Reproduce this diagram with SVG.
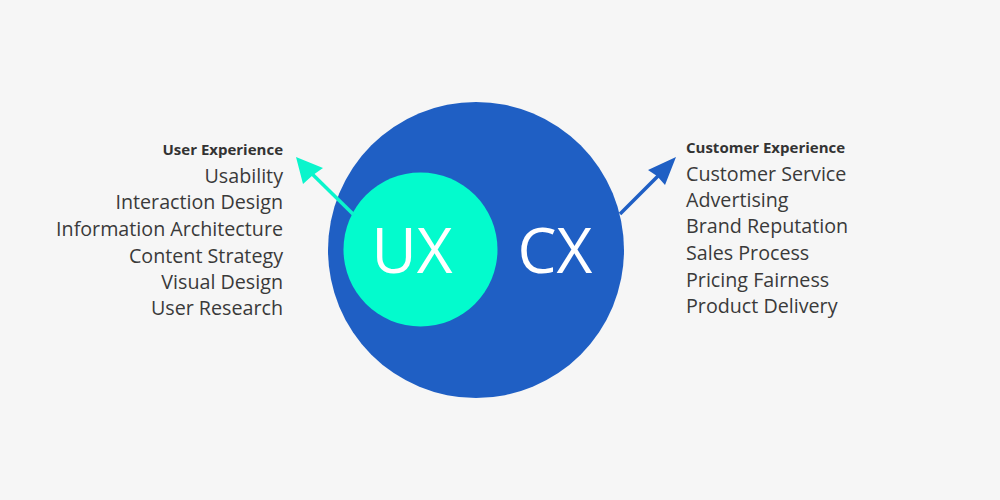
<svg xmlns="http://www.w3.org/2000/svg" width="1000" height="500" viewBox="0 0 1000 500">
<style>
.item{font-family:"Open Sans","Noto Sans",sans-serif;font-size:19.7px;fill:#3a3a3a}
.head{font-family:"Open Sans","Noto Sans",sans-serif;font-size:15px;font-weight:bold;fill:#333}
.big{font-family:"Open Sans","Noto Sans",sans-serif;font-size:62px;fill:#fff}
.l{text-anchor:end}
</style>
<rect width="1000" height="500" fill="#f6f6f6"/>
<g id="cx">
<circle cx="476" cy="250" r="148" fill="#1f5fc4"/>
<text class="big" x="555" y="273" text-anchor="middle">CX</text>
</g>
<g id="ux">
<circle cx="420.5" cy="249.5" r="77" fill="#03fbcd"/>
<text class="big" x="412" y="273" text-anchor="middle">UX</text>
</g>
<g id="connectors">
<line x1="354" y1="215" x2="304" y2="166" stroke="#0af5cc" stroke-width="3.5"/>
<path d="M296,157 L323,168 L313,175 L303,184 Z" fill="#0af5cc"/>
<line x1="620" y1="214" x2="668" y2="166" stroke="#1f5fc4" stroke-width="3.5"/>
<path d="M676,157 L665,185 L657,176 L648,170 Z" fill="#1f5fc4"/>
</g>
<g id="ux-list">
<text class="head l" x="283" y="155">User Experience</text>
<text class="item l" x="283" y="183">Usability</text>
<text class="item l" x="283" y="209">Interaction Design</text>
<text class="item l" x="283" y="236">Information Architecture</text>
<text class="item l" x="283" y="263">Content Strategy</text>
<text class="item l" x="283" y="289">Visual Design</text>
<text class="item l" x="283" y="315">User Research</text>
</g>
<g id="cx-list">
<text class="head" x="686" y="153">Customer Experience</text>
<text class="item" x="686" y="181">Customer Service</text>
<text class="item" x="686" y="207">Advertising</text>
<text class="item" x="686" y="233">Brand Reputation</text>
<text class="item" x="686" y="260">Sales Process</text>
<text class="item" x="686" y="287">Pricing Fairness</text>
<text class="item" x="686" y="313">Product Delivery</text>
</g>
</svg>
